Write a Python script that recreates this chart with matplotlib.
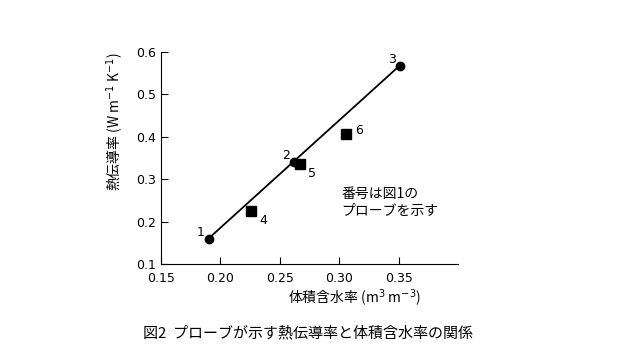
import matplotlib.pyplot as plt

plt.rcParams['font.family'] = ['Noto Sans CJK JP', 'DejaVu Sans']

# probe data (volumetric water content, thermal conductivity)
circle_ids = ['1', '2', '3']
circle_x = [0.190, 0.262, 0.351]
circle_y = [0.160, 0.341, 0.568]

square_ids = ['4', '5', '6']
square_x = [0.226, 0.267, 0.306]
square_y = [0.225, 0.335, 0.407]

xticks = [0.15, 0.20, 0.25, 0.30, 0.35]
xtick_labels = ['0.15', '0.20', '0.25', '0.30', '0.35']
yticks = [0.1, 0.2, 0.3, 0.4, 0.5, 0.6]

fig = plt.figure(figsize=(6.4, 3.6), dpi=100)
ax = fig.add_axes([0.2516, 0.2667, 0.464, 0.589])

# regression line through probes 1 and 3
ax.plot([circle_x[0], circle_x[-1]], [circle_y[0], circle_y[-1]], color='black', lw=1.3)
ax.plot(circle_x, circle_y, 'o', color='black', ms=6)
ax.plot(square_x, square_y, 's', color='black', ms=6.5)

# point labels
for i, (x, y) in zip(circle_ids, zip(circle_x, circle_y)):
    ax.annotate(i, (x, y), xytext=(-3, 0), textcoords='offset points',
                ha='right', va='bottom', fontsize=9, family='DejaVu Sans')
for i, (x, y) in zip(square_ids, zip(square_x, square_y)):
    ax.annotate(i, (x, y), xytext=(6, -2), textcoords='offset points',
                ha='left', va='top' if i != '6' else 'bottom', fontsize=9, family='DejaVu Sans')

ax.text(0.302, 0.245, '番号は図1の\nプローブを示す', fontsize=10, ha='left', va='center',
        linespacing=1.2)

ax.set_xlim(0.15, 0.40)
ax.set_ylim(0.1, 0.6)
ax.set_xticks(xticks)
ax.set_xticklabels(xtick_labels)
ax.set_yticks(yticks)
ax.tick_params(direction='in', length=5, labelsize=9)
ax.tick_params(axis='x', pad=6)
for lbl in ax.get_xticklabels() + ax.get_yticklabels():
    lbl.set_family('DejaVu Sans')
ax.spines['top'].set_visible(False)
ax.spines['right'].set_visible(False)

ax.set_xlabel('体積含水率 (m$^3$ m$^{-3}$)', fontsize=10)
ax.xaxis.set_label_coords(0.65, -0.11)
ax.set_ylabel('熱伝導率 (W m$^{-1}$ K$^{-1}$)', fontsize=10)
ax.yaxis.set_label_coords(-0.12, 0.67)

fig.text(0.224, 0.075, '図2  プローブが示す熱伝導率と体積含水率の関係', fontsize=10.8, ha='left', va='center')

fig.savefig('out.png')
